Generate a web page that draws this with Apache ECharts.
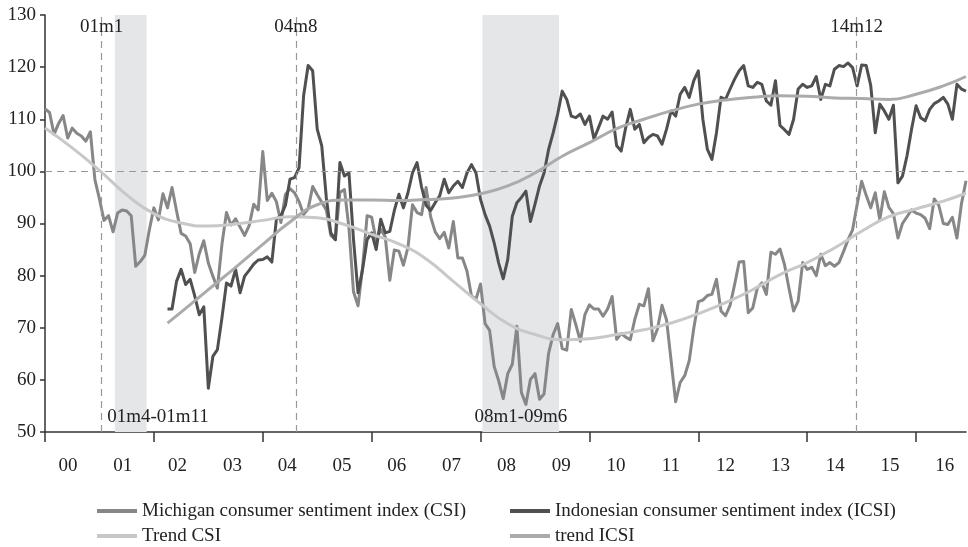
<!DOCTYPE html>
<html><head><meta charset="utf-8">
<script src="https://cdn.jsdelivr.net/npm/echarts@6/dist/echarts.min.js"></script>
<style>html,body{margin:0;padding:0;background:#fff}#c{width:968px;height:547px}</style>
</head><body><div id="c"></div>
<script>
// ---- data (month index 0 = Jan 2000) ----
const csiStartMonth = 0;
const csi = [
  112.0,111.3,107.1,109.2,110.7,106.4,108.3,107.3,106.8,105.8,107.6,98.4,
  94.7,90.6,91.5,88.4,92.0,92.6,92.4,91.5,81.8,82.7,83.9,88.8,
  93.0,90.7,95.7,93.0,96.9,92.4,88.1,87.6,86.1,80.6,84.2,86.7,
  82.4,79.9,77.6,86.0,92.1,89.7,90.9,89.3,87.7,89.6,93.7,92.6,
  103.8,94.4,95.8,94.2,90.2,95.6,96.7,95.9,94.2,91.7,92.8,97.1,
  95.5,94.1,92.6,87.7,86.9,96.0,96.5,89.1,76.9,74.2,81.6,91.5,
  91.2,86.7,88.9,87.4,79.1,84.9,84.7,82.0,85.4,93.6,92.1,91.7,
  96.9,91.3,88.4,87.1,88.3,85.3,90.4,83.4,83.4,80.9,76.1,75.5,
  78.4,70.8,69.5,62.6,59.8,56.4,61.2,63.0,70.3,57.6,55.3,60.1,
  61.2,56.3,57.3,65.1,68.7,70.8,66.0,65.7,73.5,70.6,67.4,72.5,
  74.4,73.6,73.6,72.2,73.6,76.0,67.8,68.9,68.2,67.7,71.6,74.5,
  74.2,77.5,67.5,69.8,74.3,71.5,63.7,55.8,59.5,60.8,63.7,69.9,
  75.0,75.3,76.2,76.4,79.3,73.2,72.3,74.3,78.3,82.6,82.7,72.9,
  73.8,77.6,78.6,76.4,84.5,84.1,85.1,82.1,77.5,73.2,75.1,82.5,
  81.2,81.6,80.0,84.1,81.9,82.5,81.8,82.5,84.6,86.9,88.8,93.6,
  98.1,95.4,93.0,95.9,90.7,96.1,93.1,91.9,87.2,90.0,91.3,92.6,
  92.0,91.7,91.0,89.0,94.7,93.5,90.0,89.8,91.2,87.2,93.8,98.2
];
const icsiStartMonth = 27; // Apr 2002
const icsi = [
  73.6,73.6,78.9,81.2,78.3,79.3,76.1,72.5,74.0,
  58.4,64.5,65.8,71.9,78.6,78.0,81.2,76.7,79.9,81.0,82.2,83.0,
  83.1,83.6,82.6,90.8,91.5,93.5,98.5,98.8,100.7,114.5,120.3,119.3,
  108.1,104.9,95.0,88.2,86.9,101.7,99.1,99.7,86.9,76.7,81.2,86.9,
  88.2,85.0,90.8,88.2,88.5,92.5,95.6,93.0,95.9,99.7,101.7,97.0,
  93.5,92.5,94.0,95.3,98.5,95.9,97.2,98.1,96.9,99.7,101.3,99.7,
  94.6,91.7,89.5,86.3,82.4,79.4,83.1,91.4,94.0,95.0,96.2,90.4,
  93.7,97.2,99.7,104.2,107.4,111.0,115.4,113.8,110.6,110.3,111.0,109.0,
  110.6,106.2,108.4,110.6,110.0,111.4,104.9,103.9,108.4,111.9,108.1,109.0,
  105.5,106.5,107.1,106.8,105.2,108.1,111.6,110.6,114.8,116.1,114.2,117.4,
  119.3,110.0,104.2,102.3,107.4,114.2,113.8,115.8,117.7,119.3,120.3,116.4,
  116.1,117.1,116.7,113.5,112.7,117.4,108.8,108.0,107.1,110.0,115.8,116.7,
  116.1,116.4,118.2,113.8,116.7,116.4,119.6,120.3,120.1,120.8,119.9,116.4,
  120.4,120.3,116.5,107.4,112.9,111.6,110.0,112.7,97.8,99.1,103.0,108.1,
  112.6,110.3,109.7,111.9,113.0,113.5,114.2,112.9,110.0,116.7,115.8,115.4
];
const trendCsiMonths = [0,6,12,18,24,30,36,42,48,54,60,66,72,78,84,90,96,102,108,114,120,126,132,138,144,150,156,162,168,174,180,186,192,198,203];
const trendCsi = [108.3,104.5,100.2,95.5,91.9,90.1,89.5,89.9,90.6,91.3,91.1,89.8,87.9,86.1,83.2,78.9,74.6,70.8,68.7,67.7,67.9,68.7,69.6,70.9,72.7,74.8,77.3,80.2,82.5,85.3,88.5,91.3,92.8,94.3,95.8];
const trendIcsiMonths = [27,30,36,42,48,54,60,66,72,78,84,90,96,102,108,114,120,126,132,138,144,150,156,162,168,174,180,186,192,198,203];
const trendIcsi = [70.9,73.0,77.3,81.6,86.0,90.3,93.6,94.5,94.5,94.4,94.6,94.9,95.7,97.2,99.7,102.9,105.5,108.2,110.0,111.6,112.9,113.7,114.2,114.5,114.4,114.1,114.0,113.8,114.8,116.4,118.2];
const yearLabels = ['00','01','02','03','04','05','06','07','08','09','10','11','12','13','14','15','16'];
const labelYears = [2000,2001,2002,2003,2004,2005,2006,2007,2008,2009,2010,2011,2012,2013,2014,2015,2016];
const tickMonths = [0,24,48,72,96,120,144,168,192];
const bandRanges = [[15.4,22.4],[96.4,113.3]];
const eventLines = [12.5,55.3,178.9];
const eventTexts = ['01m1','04m8','14m12'];
const bandTexts = ['01m4-01m11','08m1-09m6'];
const bandTextX = [24.9,104.9];

// ---- build ----
const FONT = "'Liberation Serif', 'DejaVu Serif', serif";
const TXT = '#222';
const csiData = csi.map((v,k)=>[csiStartMonth+k, v]);
const icsiData = icsi.map((v,k)=>[icsiStartMonth+k, v]);
const tCsiData = trendCsiMonths.map((m,k)=>[m, trendCsi[k]]);
const tIcsiData = trendIcsiMonths.map((m,k)=>[m, trendIcsi[k]]);

const names = ['Michigan consumer sentiment index (CSI)','Indonesian consumer sentiment index (ICSI)','Trend CSI','trend ICSI'];
const colors = ['#878787','#505050','#c8c8c8','#ababab'];

const markPts = eventLines.map((x,k)=>({name:eventTexts[k], coord:[x,127.6]}))
  .concat(bandTexts.map((t,k)=>({name:t, coord:[bandTextX[k],52.9]})));

const legendCommon = {orient:'vertical', itemWidth:40, itemHeight:4, itemGap:5, icon:'rect', top:501, height:80,
  padding:0, textStyle:{fontSize:19, fontFamily:FONT, color:TXT, lineHeight:20}};

const option = {
  animation:false,
  backgroundColor:'#fff',
  grid:{left:45, right:2, top:15, bottom:115},
  xAxis:[
    {type:'value', min:0, max:203,
     axisLine:{show:true, lineStyle:{color:'#333', width:1.5}},
     axisTick:{show:true, length:10, customValues:tickMonths, lineStyle:{color:'#333', width:1.5}},
     axisLabel:{show:false}, splitLine:{show:false}},
    {type:'value', min:1999.58, max:2016.387, position:'bottom',
     axisLine:{show:false}, axisTick:{show:false}, splitLine:{show:false},
     axisLabel:{customValues:labelYears, formatter:v=>yearLabels[Math.round(v)-2000],
       margin:25, fontSize:19, color:TXT, fontFamily:FONT}}
  ],
  yAxis:{type:'value', min:50, max:130, interval:10,
    axisLine:{show:true, lineStyle:{color:'#333', width:1.5}},
    axisTick:{show:true, length:5, lineStyle:{color:'#333', width:1.5}},
    splitLine:{show:false},
    axisLabel:{margin:9, fontSize:19, color:TXT, fontFamily:FONT}},
  legend:[
    Object.assign({}, legendCommon, {left:97, data:[names[0], names[2]]}),
    Object.assign({}, legendCommon, {left:510, data:[names[1], names[3]]})
  ],
  series:[
    {type:'line', name:'marks', data:[], z:1, silent:true,
     markArea:{silent:true, itemStyle:{color:'#e5e6e8'},
       data:bandRanges.map(r=>[{xAxis:r[0]},{xAxis:r[1]}])},
     markLine:{silent:true, symbol:'none', label:{show:false},
       lineStyle:{type:[7,5], color:'#999', width:1.2},
       data:[{yAxis:100}].concat(eventLines.map(x=>({xAxis:x})))},
     markPoint:{silent:true, symbol:'circle', symbolSize:0,
       label:{show:true, formatter:'{b}', fontSize:19, fontFamily:FONT, color:TXT},
       data:markPts}
    },
    {type:'line', name:names[0], data:csiData, showSymbol:false, z:3,
     color:colors[0], lineStyle:{width:3, color:colors[0], join:'round'}},
    {type:'line', name:names[1], data:icsiData, showSymbol:false, z:4,
     color:colors[1], lineStyle:{width:3, color:colors[1], join:'round'}},
    {type:'line', name:names[2], data:tCsiData, showSymbol:false, smooth:0.5, z:5,
     color:colors[2], lineStyle:{width:3, color:colors[2]}},
    {type:'line', name:names[3], data:tIcsiData, showSymbol:false, smooth:0.5, z:5,
     color:colors[3], lineStyle:{width:3, color:colors[3]}}
  ]
};
const chart = echarts.init(document.getElementById('c'), null, {renderer:'canvas'});
chart.setOption(option);
</script></body></html>
